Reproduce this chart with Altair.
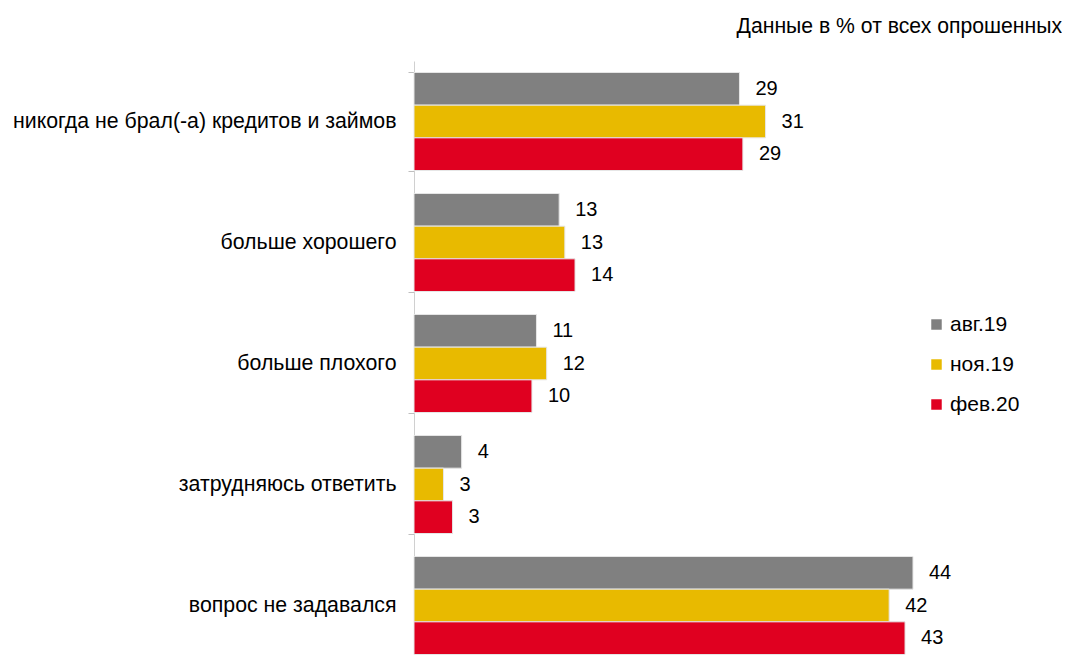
import altair as alt
import pandas as pd

categories = [
    "никогда не брал(-а) кредитов и займов",
    "больше хорошего",
    "больше плохого",
    "затрудняюсь ответить",
    "вопрос не задавался",
]
series = ["авг.19", "ноя.19", "фев.20"]
aug19 = [28.7, 12.8, 10.8, 4.2, 44.0]
nov19 = [31.0, 13.3, 11.7, 2.6, 41.9]
feb20 = [29.0, 14.2, 10.4, 3.4, 43.3]
colors = ["#808080", "#E8BA00", "#E00020"]

rows = []
for s, vals in zip(series, [aug19, nov19, feb20]):
    for c, v in zip(categories, vals):
        rows.append({"cat": c, "series": s, "value": v})
df = pd.DataFrame(rows)

FONT = "Liberation Sans"

y_enc = alt.Y("cat:N", sort=categories,
              scale=alt.Scale(range=[0, 605], paddingInner=0.19, paddingOuter=0.095),
              axis=alt.Axis(title=None, labelFontSize=21.3, labelColor="black", labelFont=FONT,
                            tickBand="extent", tickSize=6, tickColor="#bfbfbf",
                            domainColor="#d0d0d0", labelPadding=12, labelLimit=500))
x_enc = alt.X("value:Q", scale=alt.Scale(domain=[0, 57.14], nice=False),
              axis=None)
yoff = alt.YOffset("series:N", sort=series, scale=alt.Scale(paddingInner=0, paddingOuter=0))

bars = alt.Chart(df).mark_bar(stroke="#e6e6e6", strokeWidth=1).encode(
    y=y_enc, x=x_enc, yOffset=yoff,
    color=alt.Color("series:N", sort=series,
                    scale=alt.Scale(domain=series, range=colors),
                    legend=alt.Legend(title=None, orient="none", legendX=512, legendY=253,
                                      symbolType="square", symbolSize=110, symbolStrokeWidth=0,
                                      symbolOpacity=1, labelFontSize=21, labelFont=FONT,
                                      labelColor="black", rowPadding=18, labelOffset=3)),
)

labels = alt.Chart(df).mark_text(align="left", baseline="middle", dx=16, fontSize=20,
                                 font=FONT, color="black").encode(
    y=alt.Y("cat:N", sort=categories), x="value:Q", yOffset=alt.YOffset("series:N", sort=series),
    text=alt.Text("value:Q", format=".0f"),
)

chart = (bars + labels).properties(
    width=648, height=594,
    autosize=alt.AutoSizeParams(type="none"),
    padding={"left": 406, "top": 53, "right": 0, "bottom": 0},
    title=alt.TitleParams("Данные в % от всех опрошенных", anchor="end", fontSize=21.2,
                          fontWeight="normal", font=FONT, color="black", offset=13),
).configure_view(stroke=None)

chart.save("out.html", embed_options={"renderer": "svg", "actions": False})
